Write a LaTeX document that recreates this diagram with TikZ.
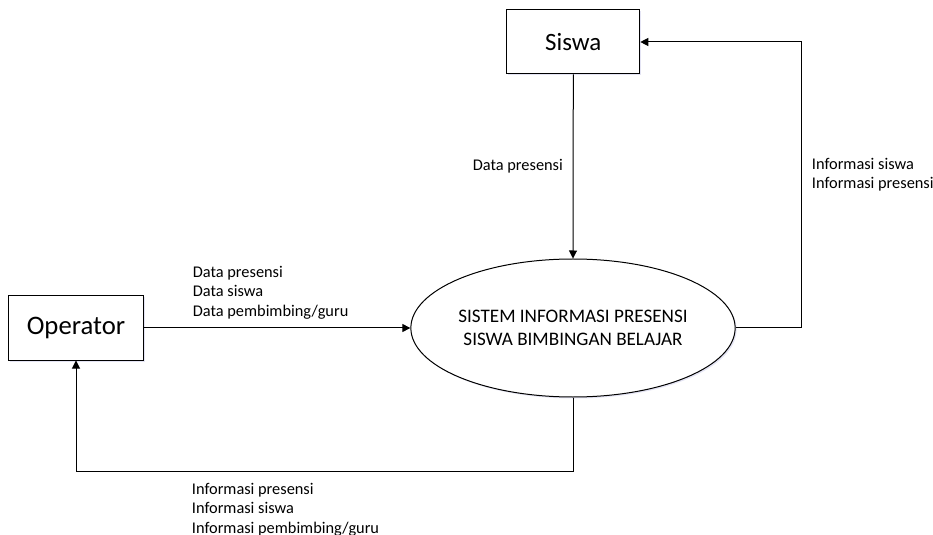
\documentclass[tikz,border=0pt]{standalone}
\usepackage{fontspec}
\setmainfont{Carlito}
\usetikzlibrary{arrows.meta,shapes.geometric,shadows}
\begin{document}
\begin{tikzpicture}[x=1bp,y=-1bp,
  shade/.style={drop shadow={shadow xshift=1.5bp,shadow yshift=-1.5bp,opacity=0.15,fill=blue!40!gray}},
  ent/.style={draw,line width=1bp,fill=white,minimum width=133bp,minimum height=64bp,inner sep=0pt,font=\fontsize{25}{30}\selectfont,shade},
  proc/.style={ellipse,draw,line width=1bp,fill=white,minimum width=286bp,minimum height=138bp,inner sep=0pt,align=center,font=\fontsize{19.2}{23}\selectfont,shade},
  flow/.style={line width=1bp,-{Triangle[length=8bp,width=8bp]}},
  lbl/.style={anchor=base west,inner sep=0pt,font=\fontsize{16.4}{19.6}\selectfont}]
\useasboundingbox (0,0) rectangle (933,535);
\node[ent] (siswa) at (573.3,42) {Siswa};
\node[ent,minimum width=134bp,font=\fontsize{26.8}{32}\selectfont] (operator) at (76,328) {Operator};
\node[proc] (sys) at (573,328) {SISTEM INFORMASI PRESENSI\\SISWA BIMBINGAN BELAJAR};
\coordinate (cr) at (801.7,328);
\coordinate (crt) at (801.7,42);
\coordinate (cb) at (573,471);
\coordinate (cbl) at (76,471);
\draw[flow] (siswa.south) -- (sys.north);
\draw[flow] (operator.east) -- (sys.west);
\draw[flow] (sys.east) -- (cr) -- (crt) -- (siswa.east);
\draw[flow] (sys.south) -- (cb) -- (cbl) -- (operator.south);
\node[lbl] (l1) at (472.7,171) {Data presensi};
\node[lbl] (l2) at (192.7,277.3) {\vtop{\hbox{Data presensi}\hbox{Data siswa}\hbox{Data pembimbing/guru}}};
\node[lbl] (l3) at (811.7,169.3) {\vtop{\hbox{Informasi siswa}\hbox{Informasi presensi}}};
\node[lbl] (l4) at (191.7,494) {\vtop{\hbox{Informasi presensi}\hbox{Informasi siswa}\hbox{Informasi pembimbing/guru}}};
\end{tikzpicture}
\end{document}
